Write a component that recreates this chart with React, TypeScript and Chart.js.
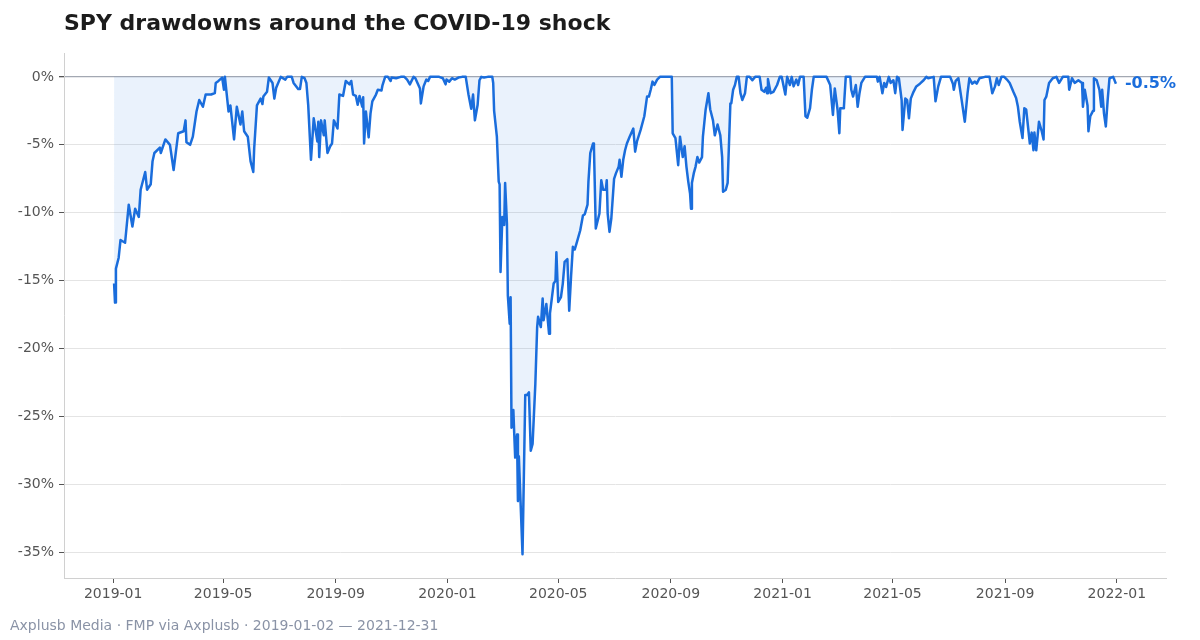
import React, { useEffect, useRef } from "react";
import { Chart, registerables } from "chart.js";

Chart.register(...registerables);

const TITLE = "SPY drawdowns around the COVID-19 shock";
const SOURCE = "Axplusb Media · FMP via Axplusb · 2019-01-02 — 2021-12-31";
const X_TICK_LABELS = ["2019-01", "2019-05", "2019-09", "2020-01", "2020-05", "2020-09", "2021-01", "2021-05", "2021-09", "2022-01"];
const Y_TICKS = [0, -5, -10, -15, -20, -25, -30, -35];

const DATES_2019 = [
  "2019-01-02", "2019-01-03", "2019-01-04", "2019-01-07", "2019-01-09", "2019-01-14", "2019-01-18", "2019-01-22", "2019-01-25", "2019-01-29",
  "2019-01-31", "2019-02-05", "2019-02-07", "2019-02-11", "2019-02-13", "2019-02-15", "2019-02-21", "2019-02-22", "2019-02-27", "2019-03-04",
  "2019-03-08", "2019-03-13", "2019-03-19", "2019-03-21", "2019-03-22", "2019-03-26", "2019-03-29", "2019-04-02", "2019-04-05", "2019-04-09",
  "2019-04-12", "2019-04-18", "2019-04-22", "2019-04-23", "2019-04-26", "2019-04-30", "2019-05-02", "2019-05-03", "2019-05-07", "2019-05-09",
  "2019-05-13", "2019-05-16", "2019-05-20", "2019-05-22", "2019-05-24", "2019-05-28", "2019-05-31", "2019-06-03", "2019-06-04", "2019-06-07",
  "2019-06-11", "2019-06-13", "2019-06-14", "2019-06-18", "2019-06-20", "2019-06-24", "2019-06-26", "2019-06-28", "2019-07-03", "2019-07-08",
  "2019-07-10", "2019-07-15", "2019-07-17", "2019-07-22", "2019-07-24", "2019-07-26", "2019-07-29", "2019-07-31", "2019-08-02", "2019-08-05",
  "2019-08-08", "2019-08-12", "2019-08-13", "2019-08-14", "2019-08-16", "2019-08-19", "2019-08-20", "2019-08-23", "2019-08-26", "2019-08-28",
  "2019-08-30", "2019-09-03", "2019-09-05", "2019-09-09", "2019-09-12", "2019-09-16", "2019-09-18", "2019-09-20", "2019-09-23", "2019-09-25",
  "2019-09-27", "2019-09-30", "2019-10-01", "2019-10-02", "2019-10-04", "2019-10-07", "2019-10-09", "2019-10-11", "2019-10-15", "2019-10-17",
  "2019-10-21", "2019-10-22", "2019-10-25", "2019-10-28", "2019-10-31", "2019-11-01", "2019-11-06", "2019-11-11", "2019-11-15", "2019-11-18",
  "2019-11-21", "2019-11-25", "2019-11-27", "2019-12-02", "2019-12-03", "2019-12-06", "2019-12-09", "2019-12-11", "2019-12-13", "2019-12-16",
  "2019-12-23", "2019-12-27", "2019-12-30", "2019-12-31",
];
const DD_2019 = [
  -15.2, -16.6, -14.1, -13.3, -12.0, -12.2, -9.4, -11.0, -9.7, -10.3,
  -8.3, -7.0, -8.3, -7.9, -6.2, -5.6, -5.2, -5.6, -4.6, -5.0,
  -6.85, -4.15, -4.0, -3.2, -4.8, -5.0, -4.4, -2.55, -1.7, -2.2,
  -1.3, -1.3, -1.2, -0.45, -0.3, -0.05, -0.95, 0, -2.55, -2.1,
  -4.6, -2.2, -3.5, -2.55, -4.0, -4.4, -6.2, -7.0, -5.25, -2.1,
  -1.6, -2.0, -1.45, -1.1, -0.05, -0.45, -1.6, -0.8, 0, -0.2,
  0, 0, -0.45, -0.9, -0.9, 0, -0.1, -0.45, -2.1, -6.1,
  -3.05, -4.75, -3.3, -5.9, -3.2, -4.3, -3.2, -5.6, -5.1, -4.9,
  -3.2, -3.8, -1.3, -1.4, -0.3, -0.55, -0.3, -1.3, -1.4, -2.05,
  -1.4, -2.2, -1.5, -4.9, -2.55, -4.45, -2.7, -1.8, -1.3, -0.95,
  -1.0, -0.65, 0, 0, -0.3, -0.05, -0.1, 0, 0, -0.2,
  -0.55, 0, -0.1, -0.85, -1.95, -0.7, -0.2, -0.3, 0, 0,
  0, -0.1, -0.55, -0.2,
];

const DATES_2020 = [
  "2020-01-03", "2020-01-06", "2020-01-09", "2020-01-13", "2020-01-17", "2020-01-21", "2020-01-24", "2020-01-27", "2020-01-29", "2020-01-31",
  "2020-02-03", "2020-02-05", "2020-02-07", "2020-02-10", "2020-02-14", "2020-02-19", "2020-02-20", "2020-02-21", "2020-02-24", "2020-02-26",
  "2020-02-27", "2020-02-28", "2020-03-01", "2020-03-03", "2020-03-04", "2020-03-06", "2020-03-07", "2020-03-09", "2020-03-10", "2020-03-11",
  "2020-03-13", "2020-03-14", "2020-03-15", "2020-03-17", "2020-03-18", "2020-03-19", "2020-03-23", "2020-03-26", "2020-03-28", "2020-03-30",
  "2020-04-01", "2020-04-03", "2020-04-06", "2020-04-08", "2020-04-09", "2020-04-12", "2020-04-14", "2020-04-15", "2020-04-18", "2020-04-21",
  "2020-04-22", "2020-04-26", "2020-04-28", "2020-04-29", "2020-05-01", "2020-05-04", "2020-05-06", "2020-05-08", "2020-05-11", "2020-05-13",
  "2020-05-15", "2020-05-17", "2020-05-19", "2020-05-21", "2020-05-25", "2020-05-28", "2020-05-30", "2020-06-02", "2020-06-03", "2020-06-05",
  "2020-06-08", "2020-06-09", "2020-06-11", "2020-06-15", "2020-06-17", "2020-06-19", "2020-06-22", "2020-06-23", "2020-06-24", "2020-06-26",
  "2020-06-28", "2020-07-01", "2020-07-03", "2020-07-06", "2020-07-07", "2020-07-09", "2020-07-11", "2020-07-13", "2020-07-15", "2020-07-18",
  "2020-07-22", "2020-07-24", "2020-07-26", "2020-07-30", "2020-08-03", "2020-08-06", "2020-08-08", "2020-08-10", "2020-08-12", "2020-08-14",
  "2020-08-17", "2020-08-20", "2020-08-31", "2020-09-02", "2020-09-03", "2020-09-06", "2020-09-09", "2020-09-11", "2020-09-14", "2020-09-16",
  "2020-09-18", "2020-09-20", "2020-09-22", "2020-09-23", "2020-09-24", "2020-09-26", "2020-09-28", "2020-09-30", "2020-10-02", "2020-10-05",
  "2020-10-06", "2020-10-09", "2020-10-12", "2020-10-14", "2020-10-17", "2020-10-19", "2020-10-22", "2020-10-25", "2020-10-27", "2020-10-28",
  "2020-10-31", "2020-11-02", "2020-11-05", "2020-11-06", "2020-11-08", "2020-11-10", "2020-11-12", "2020-11-14", "2020-11-16", "2020-11-18",
  "2020-11-21", "2020-11-23", "2020-11-26", "2020-11-29", "2020-12-02", "2020-12-07", "2020-12-09", "2020-12-12", "2020-12-14", "2020-12-15",
  "2020-12-16", "2020-12-19", "2020-12-22", "2020-12-26", "2020-12-29", "2020-12-31",
];
const DD_2020 = [
  -0.35, -0.1, -0.2, -0.05, 0, 0, -1.3, -2.35, -1.3, -3.2,
  -2.05, -0.25, 0, -0.05, 0, 0, -0.45, -2.5, -4.4, -7.7,
  -7.9, -14.35, -10.3, -10.9, -7.8, -10.8, -16.1, -18.15, -16.2, -25.8,
  -24.5, -26.3, -28.0, -26.3, -31.2, -27.9, -35.1, -23.4, -23.4, -23.2,
  -27.5, -27.0, -22.6, -18.4, -17.65, -18.4, -16.3, -17.9, -16.7, -18.9,
  -17.4, -15.2, -15.0, -12.9, -16.55, -16.2, -15.2, -13.6, -13.4, -17.2,
  -14.7, -12.5, -12.7, -12.25, -11.3, -10.2, -10.1, -9.4, -7.7, -5.6,
  -4.9, -5.2, -11.15, -10.05, -7.6, -8.3, -8.3, -7.6, -10.05, -11.4,
  -10.4, -7.5, -7.1, -6.6, -6.1, -7.35, -6.1, -5.4, -4.9, -4.4,
  -3.8, -5.5, -4.75, -3.9, -2.9, -1.45, -1.45, -0.95, -0.35, -0.6,
  -0.2, 0, 0, 0, -4.15, -4.5, -6.5, -4.4, -5.9, -5.1,
  -6.6, -7.7, -8.6, -9.7, -7.8, -7.1, -6.6, -5.9, -6.3, -5.9,
  -4.4, -2.4, -1.2, -2.4, -3.2, -4.3, -3.5, -4.3, -5.9, -8.45,
  -8.3, -7.8, -1.95, -1.95, -0.95, -0.6, 0, 0, -1.2, -1.7,
  -1.2, 0, 0, -0.25, 0, 0, -0.95, -1.1, -0.8, -1.2,
  -0.15, -1.2, -1.1, -0.6, 0, 0,
];

const DATES_2021 = [
  "2021-01-04", "2021-01-06", "2021-01-09", "2021-01-11", "2021-01-13", "2021-01-16", "2021-01-18", "2021-01-20", "2021-01-24", "2021-01-26",
  "2021-01-28", "2021-01-31", "2021-02-02", "2021-02-04", "2021-02-18", "2021-02-22", "2021-02-25", "2021-02-27", "2021-03-02", "2021-03-04",
  "2021-03-05", "2021-03-08", "2021-03-09", "2021-03-11", "2021-03-16", "2021-03-17", "2021-03-19", "2021-03-22", "2021-03-24", "2021-03-26",
  "2021-03-28", "2021-04-01", "2021-04-14", "2021-04-15", "2021-04-17", "2021-04-20", "2021-04-22", "2021-04-24", "2021-04-27", "2021-04-29",
  "2021-05-02", "2021-05-04", "2021-05-06", "2021-05-08", "2021-05-11", "2021-05-12", "2021-05-15", "2021-05-17", "2021-05-19", "2021-05-21",
  "2021-05-24", "2021-05-27", "2021-05-31", "2021-06-04", "2021-06-07", "2021-06-09", "2021-06-15", "2021-06-17", "2021-06-20", "2021-06-23",
  "2021-07-03", "2021-07-06", "2021-07-07", "2021-07-09", "2021-07-12", "2021-07-15", "2021-07-19", "2021-07-22", "2021-07-24", "2021-07-27",
  "2021-07-30", "2021-08-01", "2021-08-04", "2021-08-10", "2021-08-15", "2021-08-18", "2021-08-21", "2021-08-23", "2021-08-25", "2021-08-28",
  "2021-08-31", "2021-09-03", "2021-09-06", "2021-09-10", "2021-09-13", "2021-09-15", "2021-09-17", "2021-09-20", "2021-09-22", "2021-09-24",
  "2021-09-26", "2021-09-28", "2021-09-30", "2021-10-02", "2021-10-03", "2021-10-05", "2021-10-08", "2021-10-11", "2021-10-13", "2021-10-14",
  "2021-10-16", "2021-10-19", "2021-10-23", "2021-10-27", "2021-10-30", "2021-11-03", "2021-11-09", "2021-11-10", "2021-11-13", "2021-11-16",
  "2021-11-20", "2021-11-24", "2021-11-25", "2021-11-27", "2021-11-30", "2021-12-01", "2021-12-03", "2021-12-06", "2021-12-07", "2021-12-10",
  "2021-12-13", "2021-12-15", "2021-12-16", "2021-12-18", "2021-12-20", "2021-12-22", "2021-12-24", "2021-12-28", "2021-12-31",
];
const DD_2021 = [
  -1.3, 0, -0.6, 0, -0.7, -0.2, -0.6, 0, 0, -2.9,
  -3.0, -2.3, -0.95, 0, 0, -0.6, -2.8, -0.85, -2.4, -4.15,
  -2.3, -2.3, -2.2, 0, 0, -0.95, -1.45, -0.6, -2.2, -1.2,
  -0.45, 0, 0, -0.35, 0, -1.2, -0.45, -0.75, 0, -0.45,
  -0.25, -1.2, 0, -0.1, -1.7, -3.9, -1.6, -1.7, -3.05, -1.6,
  -1.1, -0.7, -0.5, -0.25, 0, -0.1, 0, -1.8, -0.7, 0,
  0, -0.5, -0.95, -0.3, -0.1, -1.45, -3.3, -1.2, -0.1, -0.5,
  -0.35, -0.5, -0.1, 0, 0, -1.2, -0.7, -0.1, -0.6, 0,
  0, -0.2, -0.45, -1.1, -1.55, -2.2, -3.3, -4.5, -2.3, -2.4,
  -3.65, -4.9, -4.1, -5.4, -4.1, -5.4, -3.3, -4.0, -4.6, -1.7,
  -1.45, -0.45, -0.1, 0, -0.45, 0, 0, -0.95, -0.1, -0.45,
  -0.25, -0.45, -2.2, -0.95, -2.1, -4.0, -2.9, -2.5, -0.1, -0.25,
  -0.95, -2.2, -0.95, -2.7, -3.65, -1.7, -0.1, 0, -0.5,
];

const LINE_COLOR = "#1a6ddc";
const FILL_COLOR = "rgba(26,109,220,0.09)";
const FONT = "'DejaVu Sans', sans-serif";

const toMs = (s: string) => {
  const [y, m, d] = s.split("-").map(Number);
  return Date.UTC(y, m - 1, d);
};

function buildPoints() {
  const pairs: { x: number; y: number }[] = [];
  const add = (dates: string[], vals: number[]) => {
    const n = Math.min(dates.length, vals.length);
    for (let i = 0; i < n; i++) pairs.push({ x: toMs(dates[i]), y: vals[i] });
  };
  add(DATES_2019, DD_2019);
  add(DATES_2020, DD_2020);
  add(DATES_2021, DD_2021);
  return pairs;
}

const fmtPct = (v: number) => {
  const r = Math.round(v * 10) / 10;
  return `${r === 0 ? "0" : r.toFixed(Number.isInteger(r) ? 0 : 1)}%`;
};

export default function App() {
  const ref = useRef<HTMLCanvasElement | null>(null);

  useEffect(() => {
    if (!ref.current) return;
    const pts = buildPoints();
    const xs = pts.map((p) => p.x);
    const ys = pts.map((p) => p.y);
    const xMinD = Math.min(...xs);
    const xMaxD = Math.max(...xs);
    const xPad = (xMaxD - xMinD) * 0.05;
    const yMinD = Math.min(...ys);
    const yMaxD = Math.max(...ys);
    const yPad = (yMaxD - yMinD) * 0.05;
    const xTickVals = X_TICK_LABELS.map((l) => toMs(l + "-01"));
    const lastVal = ys[ys.length - 1];

    const overlay = {
      id: "overlay",
      afterDraw(chart: any) {
        const ctx = chart.ctx;
        const ca = chart.chartArea;
        ctx.save();
        ctx.textAlign = "left";
        ctx.textBaseline = "middle";
        ctx.fillStyle = "#1c1c1c";
        ctx.font = `bold 22px ${FONT}`;
        ctx.fillText(TITLE, ca.left, 24);
        ctx.fillStyle = "#8a93a6";
        ctx.font = `14px ${FONT}`;
        ctx.fillText(SOURCE, 10, 626);
        const meta = chart.getDatasetMeta(0);
        const last = meta.data[meta.data.length - 1];
        if (last) {
          ctx.fillStyle = LINE_COLOR;
          ctx.font = `bold 16px ${FONT}`;
          ctx.fillText(fmtPct(lastVal), last.x + 9, last.y);
        }
        ctx.restore();
      },
    };

    const chart = new Chart(ref.current, {
      type: "line",
      data: {
        datasets: [
          {
            data: pts,
            borderColor: LINE_COLOR,
            backgroundColor: FILL_COLOR,
            borderWidth: 2.5,
            pointRadius: 0,
            tension: 0,
            fill: "origin",
            borderJoinStyle: "round",
          },
        ],
      },
      options: {
        animation: false,
        responsive: true,
        maintainAspectRatio: false,
        layout: { padding: { top: 53, right: 34, bottom: 32, left: 0 } },
        plugins: { legend: { display: false }, tooltip: { enabled: false }, title: { display: false } },
        scales: {
          x: {
            type: "linear",
            min: xMinD - xPad,
            max: xMaxD + xPad,
            afterBuildTicks: (s: any) => {
              s.ticks = xTickVals.map((v) => ({ value: v }));
            },
            afterFit: (s: any) => {
              s.height = 30;
            },
            ticks: {
              autoSkip: false,
              maxRotation: 0,
              padding: 3,
              color: "#555",
              font: { family: FONT, size: 14 },
              callback: (v: any) => {
                const i = xTickVals.indexOf(Number(v));
                return i >= 0 ? X_TICK_LABELS[i] : "";
              },
            },
            grid: { display: true, drawOnChartArea: false, drawTicks: true, tickLength: 5, tickColor: "#555", color: "#555" },
            border: { display: true, color: "#d0d0d0", width: 1 },
          },
          y: {
            type: "linear",
            min: yMinD - yPad,
            max: yMaxD + yPad,
            afterBuildTicks: (s: any) => {
              s.ticks = Y_TICKS.map((v) => ({ value: v }));
            },
            afterFit: (s: any) => {
              s.width = 64;
            },
            ticks: {
              padding: 5,
              color: "#555",
              font: { family: FONT, size: 14 },
              callback: (v: any) => fmtPct(Number(v)),
            },
            grid: {
              drawTicks: true,
              tickLength: 5,
              tickColor: "#555",
              color: (c: any) => (c.tick && c.tick.value === 0 ? "#a3a8b2" : "#e4e4e4"),
              lineWidth: (c: any) => (c.tick && c.tick.value === 0 ? 1.3 : 1),
            },
            border: { display: true, color: "#d0d0d0", width: 1 },
          },
        },
      },
      plugins: [overlay],
    } as any);

    return () => chart.destroy();
  }, []);

  return (
    <div style={{ position: "absolute", left: 0, top: 0, width: 1200, height: 640, background: "#fff" }}>
      <canvas ref={ref} />
    </div>
  );
}
